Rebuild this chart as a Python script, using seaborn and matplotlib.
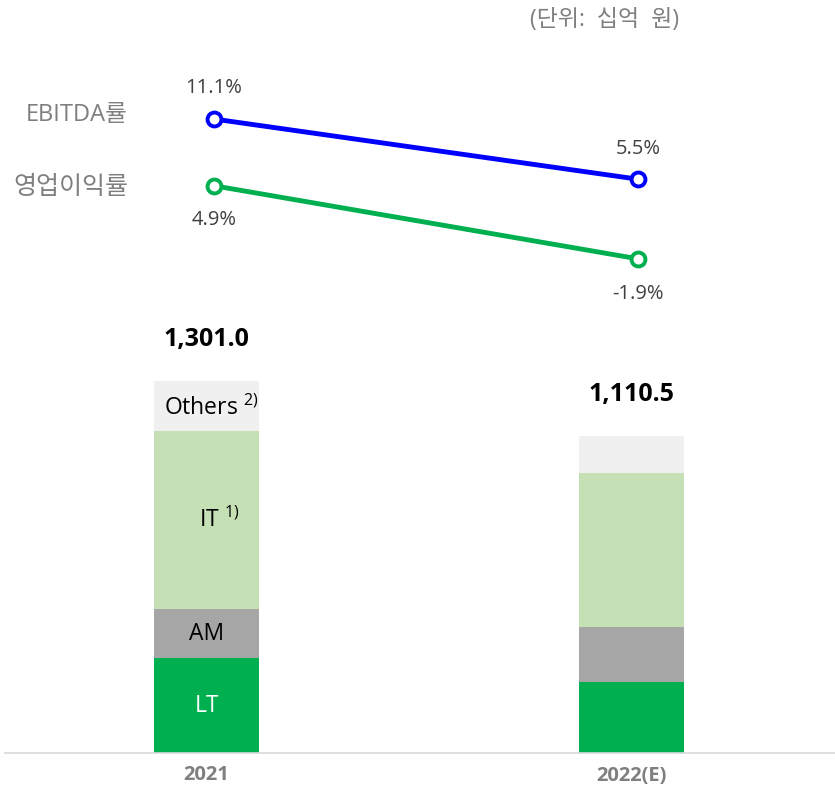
import numpy as np
import pandas as pd
import matplotlib
matplotlib.use("Agg")
import matplotlib.pyplot as plt
import seaborn as sns

# chart data
years = ["2021", "2022(E)"]
segments = ["LT", "AM", "IT", "Others"]
lt = [332, 248]
am = [171, 192]
it = [623, 540]
others = [175, 130.5]
totals = ["1,301.0", "1,110.5"]

ebitda_margin = [11.1, 5.5]
op_margin = [4.9, -1.9]

seg_colors = {"LT": "#00B050", "AM": "#A6A6A6", "IT": "#C5E0B4", "Others": "#F0F0F0"}

sns.set_style("white")
plt.rcParams["font.family"] = ["Open Sans", "Noto Sans CJK KR", "DejaVu Sans"]

W, H = 835, 790
fig = plt.figure(figsize=(W / 100, H / 100), dpi=100)


def box(left, top, right, bottom):
    """pixel box -> figure fraction rect"""
    return [left / W, 1 - bottom / H, (right - left) / W, (bottom - top) / H]


# ---- bars ----
ax = fig.add_axes(box(5, 330, 835, 753))
df = pd.DataFrame({"year": years, "LT": lt, "AM": am, "IT": it, "Others": others})
cum = df[segments].cumsum(axis=1)
for seg in reversed(segments):
    sns.barplot(x=df["year"], y=cum[seg], color=seg_colors[seg], width=0.247,
                saturation=1, ax=ax, edgecolor="none")
ax.set_xlim(-0.475, 1.48)
ax.set_ylim(0, 1480)
ax.set_xlabel("")
ax.set_ylabel("")
ax.set_yticks([])
ax.set_xticks([0, 1])
ax.set_xticklabels(years, fontsize=14.5, fontweight="bold", color="#7F7F7F")
ax.tick_params(axis="x", length=0, pad=9)
for s in ["top", "right", "left"]:
    ax.spines[s].set_visible(False)
ax.spines["bottom"].set_color("#D9D9D9")
ax.spines["bottom"].set_linewidth(1.2)

for i, t in enumerate(totals):
    ax.text(i, cum["Others"][i] + 145, t, ha="center", va="center",
            fontsize=18, fontweight="bold", color="black")

# segment labels on first bar only
mid = lambda seg: cum[seg][0] - df[seg][0] / 2
ax.text(0.01, mid("Others") - 8, r"Others $^{\mathregular{2)}}$", ha="center", va="center",
        fontsize=16.5, color="black")
ax.text(0.03, mid("IT"), r"IT $^{\mathregular{1)}}$", ha="center", va="center",
        fontsize=16.5, color="black")
ax.text(0, mid("AM"), "AM", ha="center", va="center", fontsize=16.5, color="black")
ax.text(0, mid("LT"), "LT", ha="center", va="center", fontsize=16.5, color="white")

# ---- margin lines ----
lx = fig.add_axes(box(12, 77, 842, 303))
lines = pd.DataFrame({"x": [0, 1, 0, 1],
                      "v": ebitda_margin + op_margin,
                      "k": ["EBITDA률", "EBITDA률", "영업이익률", "영업이익률"]})
sns.lineplot(data=lines, x="x", y="v", hue="k", palette=["#0000FF", "#00B050"],
             marker="o", markersize=10, markerfacecolor="white", markeredgewidth=2.8,
             linewidth=3.5, legend=False, ax=lx)
for ln, c in zip(lx.lines, ["#0000FF", "#00B050"]):
    ln.set_markeredgecolor(c)
lx.set_xlim(-0.475, 1.48)
lx.set_ylim(-6, 15)
lx.axis("off")

for i, v in enumerate(ebitda_margin):
    lx.annotate(f"{v:.1f}%", (i, v), xytext=(0, 22), textcoords="offset points",
                ha="center", va="center", fontsize=14.5, color="#404040")
for i, v in enumerate(op_margin):
    lx.annotate(f"{v:.1f}%", (i, v), xytext=(0, -25), textcoords="offset points",
                ha="center", va="center", fontsize=14.5, color="#404040")

fig.text(128 / W, 1 - 115 / H, "EBITDA률", ha="right", va="center", fontsize=17, color="#7F7F7F")
fig.text(128 / W, 1 - 187 / H, "영업이익률", ha="right", va="center", fontsize=18, color="#7F7F7F")
fig.text(605 / W, 1 - 20 / H, "(단위:  십억  원)", ha="center", va="center", fontsize=16.5, color="#7F7F7F")

fig.savefig("out.png", dpi=100)
